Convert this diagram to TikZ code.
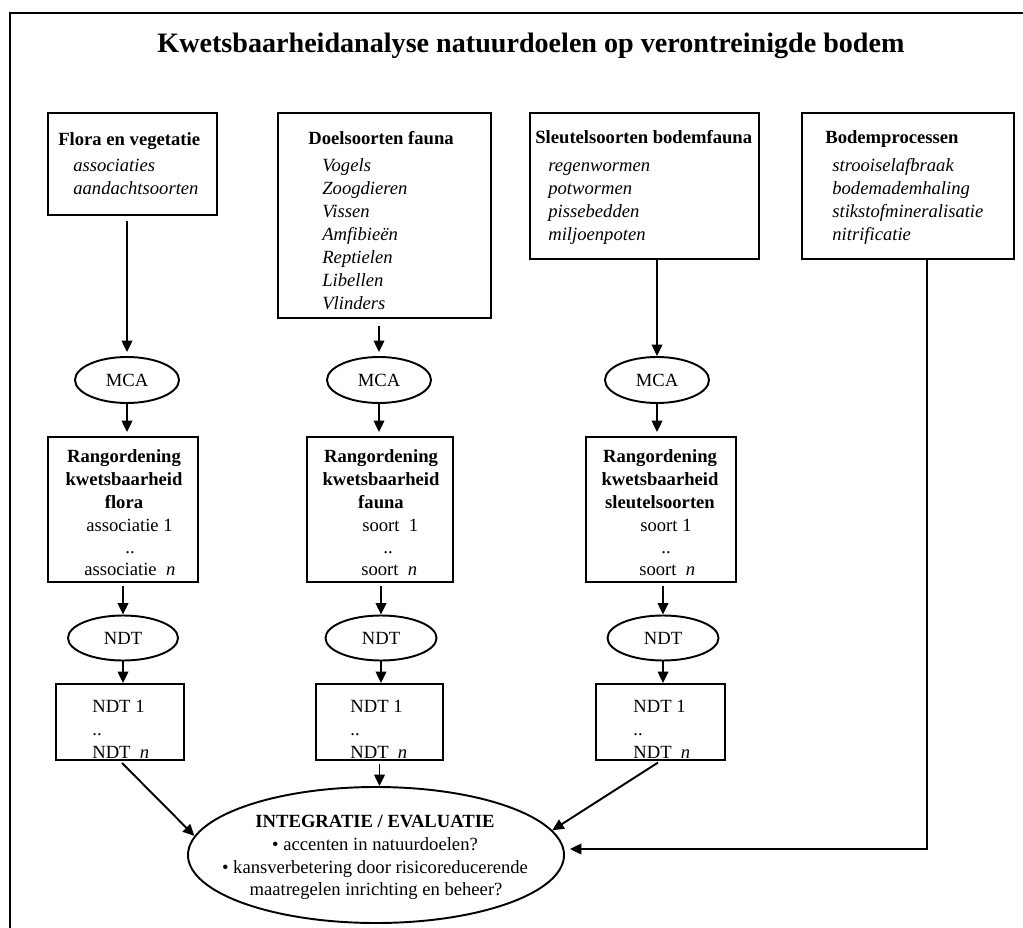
\documentclass[tikz,border=0pt]{standalone}
\usepackage{fontspec}
\setmainfont{Liberation Serif}
\usetikzlibrary{arrows.meta,calc,shapes.geometric}
\begin{document}
\begin{tikzpicture}[x=0.02cm,y=-0.02cm,
  box/.style 2 args={draw,line width=1.1pt,rectangle,inner sep=0pt,minimum width=#1*0.02cm,minimum height=#2*0.02cm},
  oval/.style 2 args={draw,line width=1.1pt,ellipse,inner sep=0pt,minimum width=#1*0.02cm,minimum height=#2*0.02cm},
  arr/.style={line width=1.1pt,-{Triangle[length=6.5pt,width=6pt]}},
  plain/.style={line width=1.1pt},
  txt/.style={anchor=base west,inner sep=0pt,font=\fontsize{10.6}{13}\selectfont},
  ctxt/.style={anchor=base,inner sep=0pt,font=\fontsize{10.6}{13}\selectfont},
  hd/.style={txt,font=\fontsize{10.6}{13}\selectfont\bfseries},
  chd/.style={ctxt,font=\fontsize{10.6}{13}\selectfont\bfseries},
  it/.style={txt,font=\fontsize{10.6}{13}\selectfont\itshape},
  lbl/.style={inner sep=0pt,font=\fontsize{10.6}{13}\selectfont}
]
\useasboundingbox (0,0) rectangle (1023,928);
% frame
\draw[line width=1.2pt] (10,928) -- (10,13) -- (1023,13);
% title
\node[anchor=base,inner sep=0pt,font=\fontsize{16}{19}\selectfont\bfseries] (title) at (531,53) {Kwetsbaarheidanalyse natuurdoelen op verontreinigde bodem};

% top boxes
\node[box={169}{102}] (b1) at (132.5,164) {};
\node[box={213}{205}] (b2) at (384.5,215.5) {};
\node[box={229}{146}] (b3) at (644.5,186) {};
\node[box={212}{146}] (b4) at (908,186) {};

\node[hd] (b1h) at (58,146) {Flora en vegetatie};
\node[it] (b1a) at (73,172) {associaties};
\node[it] (b1b) at (73,195) {aandachtsoorten};

\node[hd] (b2h) at (308,145) {Doelsoorten fauna};
\foreach \t [count=\i] in {Vogels,Zoogdieren,Vissen,Amfibieën,Reptielen,Libellen,Vlinders}
  \node[it] (b2i\i) at (322,149+23*\i) {\t};

\node[hd] (b3h) at (535,144) {Sleutelsoorten bodemfauna};
\foreach \t [count=\i] in {regenwormen,potwormen,pissebedden,miljoenpoten}
  \node[it] (b3i\i) at (548,149+23*\i) {\t};

\node[hd] (b4h) at (825,144) {Bodemprocessen};
\foreach \t [count=\i] in {strooiselafbraak,bodemademhaling,stikstofmineralisatie,nitrificatie}
  \node[it] (b4i\i) at (832,149+23*\i) {\t};

% MCA ellipses
\node[oval={104}{46}] (m1) at (127,380) {};
\node[oval={104}{46}] (m2) at (379,380) {};
\node[oval={104}{46}] (m3) at (657,380) {};
\node[lbl] at (m1) {MCA};
\node[lbl] at (m2) {MCA};
\node[lbl] at (m3) {MCA};

% ranking boxes
\node[box={150}{145}] (r1) at (123,509.5) {};
\node[box={146}{145}] (r2) at (380,509.5) {};
\node[box={150}{145}] (r3) at (661,509.5) {};

\node[chd] at (124,462) {Rangordening};
\node[chd] at (124,485) {kwetsbaarheid};
\node[chd] at (124,508) {flora};
\node[txt] at (86,531) {associatie 1};
\node[ctxt] at (130,553) {..};
\node[txt] at (84,575) {associatie~~\textit{n}};

\node[chd] at (381,462) {Rangordening};
\node[chd] at (381,485) {kwetsbaarheid};
\node[chd] at (381,508) {fauna};
\node[txt] at (362,531) {soort~~1};
\node[ctxt] at (388,553) {..};
\node[txt] at (361,575) {soort~~\textit{n}};

\node[chd] at (660,462) {Rangordening};
\node[chd] at (660,485) {kwetsbaarheid};
\node[chd] at (660,508) {sleutelsoorten};
\node[txt] at (640,531) {soort 1};
\node[ctxt] at (666,553) {..};
\node[txt] at (639,575) {soort~~\textit{n}};

% NDT ellipses
\node[oval={110}{45}] (n1) at (123,638) {};
\node[oval={111}{45}] (n2) at (381,638) {};
\node[oval={111}{45}] (n3) at (663,638) {};
\node[lbl] at (n1) {NDT};
\node[lbl] at (n2) {NDT};
\node[lbl] at (n3) {NDT};

% NDT boxes
\node[box={128}{76}] (d1) at (120,722) {};
\node[box={127}{76}] (d2) at (379.5,722) {};
\node[box={129}{76}] (d3) at (660.5,722) {};
\foreach \xx in {92,350,633}{
  \node[txt] at (\xx,712) {NDT 1};
  \node[txt] at (\xx,735) {..};
  \node[txt] at (\xx,758) {NDT~~\textit{n}};
}

% integration ellipse
\node[oval={376}{136}] (integ) at (376,855) {};
\node[chd] at (375,827) {INTEGRATIE / EVALUATIE};
\node[ctxt] at (375,850) {• accenten in natuurdoelen?};
\node[ctxt] at (375,873) {• kansverbetering door risicoreducerende};
\node[ctxt] at (376,895) {maatregelen inrichting en beheer?};

% connectors
\draw[arr,shorten <=0.1cm,shorten >=0.08cm] (m1.north |- b1.south) -- (m1.north);
\draw[arr,shorten <=0.14cm,shorten >=0.08cm] (m2.north |- b2.south) -- (m2.north);
\draw[arr] (m3.north |- b3.south) -- (m3.north);

\draw[arr,shorten >=0.08cm] (m1.south) -- (m1.south |- r1.north);
\draw[arr,shorten >=0.08cm] (m2.south) -- (m2.south |- r2.north);
\draw[arr,shorten >=0.08cm] (m3.south) -- (m3.south |- r3.north);

\draw[arr,shorten <=0.06cm] (n1.north |- r1.south) -- (n1.north);
\draw[arr,shorten <=0.06cm] (n2.north |- r2.south) -- (n2.north);
\draw[arr,shorten <=0.06cm] (n3.north |- r3.south) -- (n3.north);

\draw[arr] (n1.south) -- (n1.south |- d1.north);
\draw[arr] (n2.south) -- (n2.south |- d2.north);
\draw[arr] (n3.south) -- (n3.south |- d3.north);

\draw[arr,shorten <=0.06cm] (d1.south) -- (integ.174);
\draw[arr,shorten <=0.06cm] (d2.south) -- (d2.south |- integ.north);
\draw[arr,shorten <=0.06cm] (d3.south) -- (integ.8);

\coordinate (k) at (927,849);
\draw[arr,shorten >=0.1cm] (b4.south -| k) -- (k) -- (integ.east |- k);
\end{tikzpicture}
\end{document}
